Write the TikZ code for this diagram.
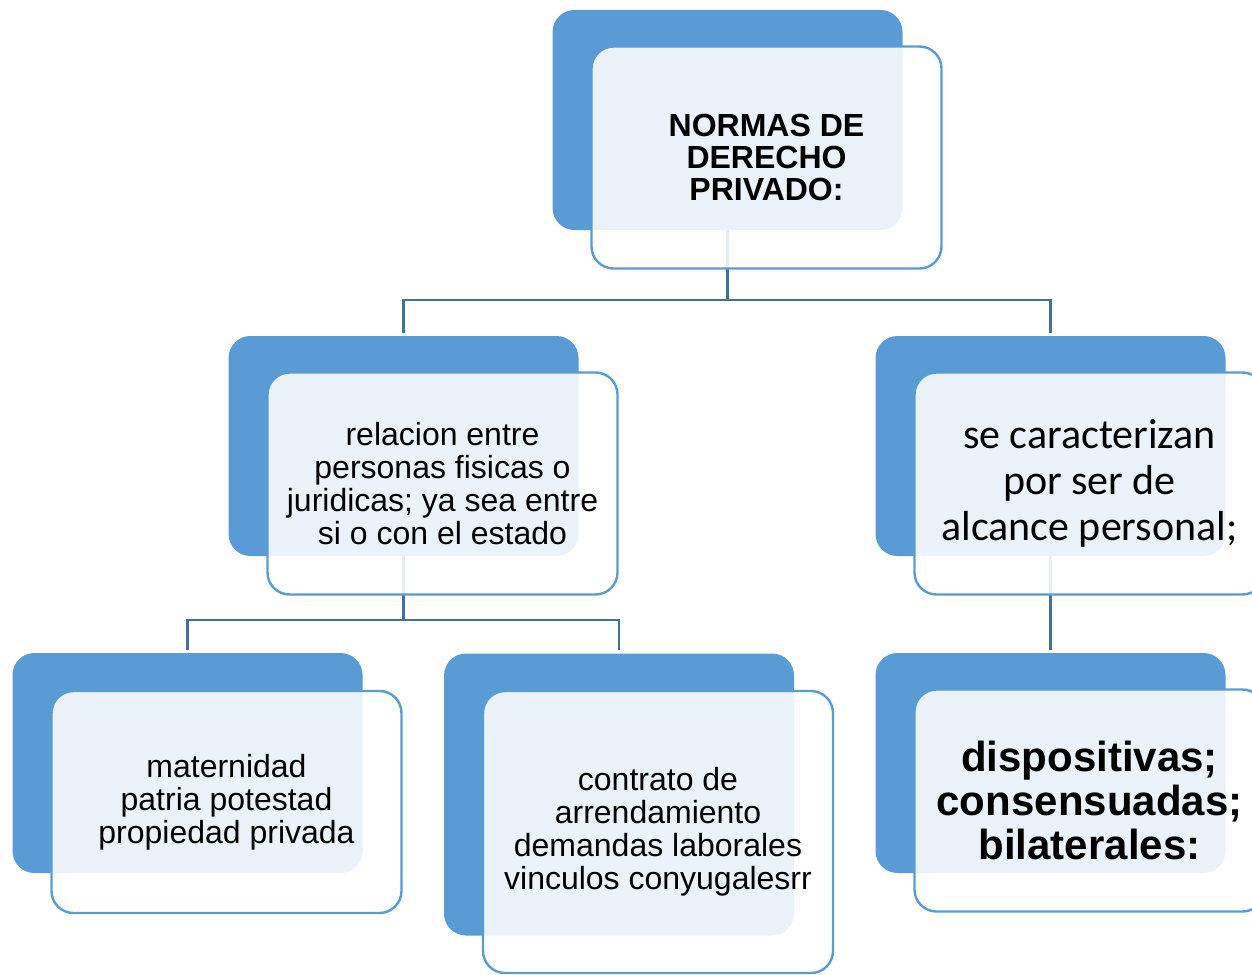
\documentclass[tikz,border=0pt]{standalone}
\usepackage{fontspec}
\setmainfont{Liberation Sans}
\newfontfamily\calibrilike{Carlito}
\definecolor{boxblue}{RGB}{91, 155, 213}
\definecolor{linkblue}{RGB}{65, 113, 156}
\usetikzlibrary{positioning, calc}

\tikzset{
  backbox/.style={fill=boxblue, rounded corners=11pt, minimum width=175pt, minimum height=110pt, inner sep=0pt},
  frontbox/.style={draw=boxblue, line width=1.2pt, fill=white, fill opacity=0.88, text opacity=1,
    rounded corners=11pt, minimum width=175pt, minimum height=111pt, align=center, inner sep=0pt},
  link/.style={draw=linkblue, line width=1.2pt, shorten >=1.5pt},
  plaintext/.style={font=\fontsize{16pt}{16.5pt}\selectfont},
}

\begin{document}
\begin{tikzpicture}[x=0.5pt, y=-0.5pt]
  \useasboundingbox (0,0) rectangle (1252,974);

  % back boxes
  \node[backbox] (normasback) at (727.5,120) {};
  \node[backbox] (relback) at (403.5,446) {};
  \node[backbox] (caracback) at (1050.5,446) {};
  \node[backbox] (matback) at (187.5,763) {};
  \node[backbox, minimum height=141pt] (contback) at (619,794.5) {};
  \node[backbox] (dispback) at (1050.5,763) {};

  % connectors
  \coordinate (bus1) at (0,300);
  \coordinate (bus2) at (0,620);
  \draw[link] (normasback.south) -- (normasback.south |- bus1) -| (relback.north);
  \draw[link] (normasback.south |- bus1) -| (caracback.north);
  \draw[link] (relback.south) -- (relback.south |- bus2) -| (matback.north);
  \draw[link] (relback.south |- bus2) -| (contback.north);
  \draw[link] (caracback.south) -- (dispback.north);

  % front boxes
  \node[frontbox, font=\bfseries\fontsize{16pt}{16pt}\selectfont] (normas)
    at ([shift={(19.5pt,-18.75pt)}]normasback.center) {NORMAS DE\\DERECHO\\PRIVADO:};
  \node[frontbox, plaintext] (rel)
    at ([shift={(19.5pt,-18.75pt)}]relback.center) {relacion entre\\personas fisicas o\\juridicas; ya sea entre\\si o con el estado};
  \node[frontbox, font=\calibrilike\fontsize{21pt}{23pt}\selectfont] (carac)
    at ([shift={(19.5pt,-18.75pt)}]caracback.center) {se caracterizan\\por ser de\\alcance personal;};
  \node[frontbox, plaintext] (mat)
    at ([shift={(19.5pt,-19.5pt)}]matback.center) {maternidad\\patria potestad\\propiedad privada};
  \node[frontbox, plaintext, minimum height=141pt] (cont)
    at ([shift={(19.5pt,-18.75pt)}]contback.center) {contrato de\\arrendamiento\\demandas laborales\\vinculos conyugalesrr};
  \node[frontbox, font=\bfseries\fontsize{21pt}{22pt}\selectfont] (disp)
    at ([shift={(19.5pt,-18.75pt)}]dispback.center) {dispositivas;\\consensuadas;\\bilaterales:};
\end{tikzpicture}
\end{document}
